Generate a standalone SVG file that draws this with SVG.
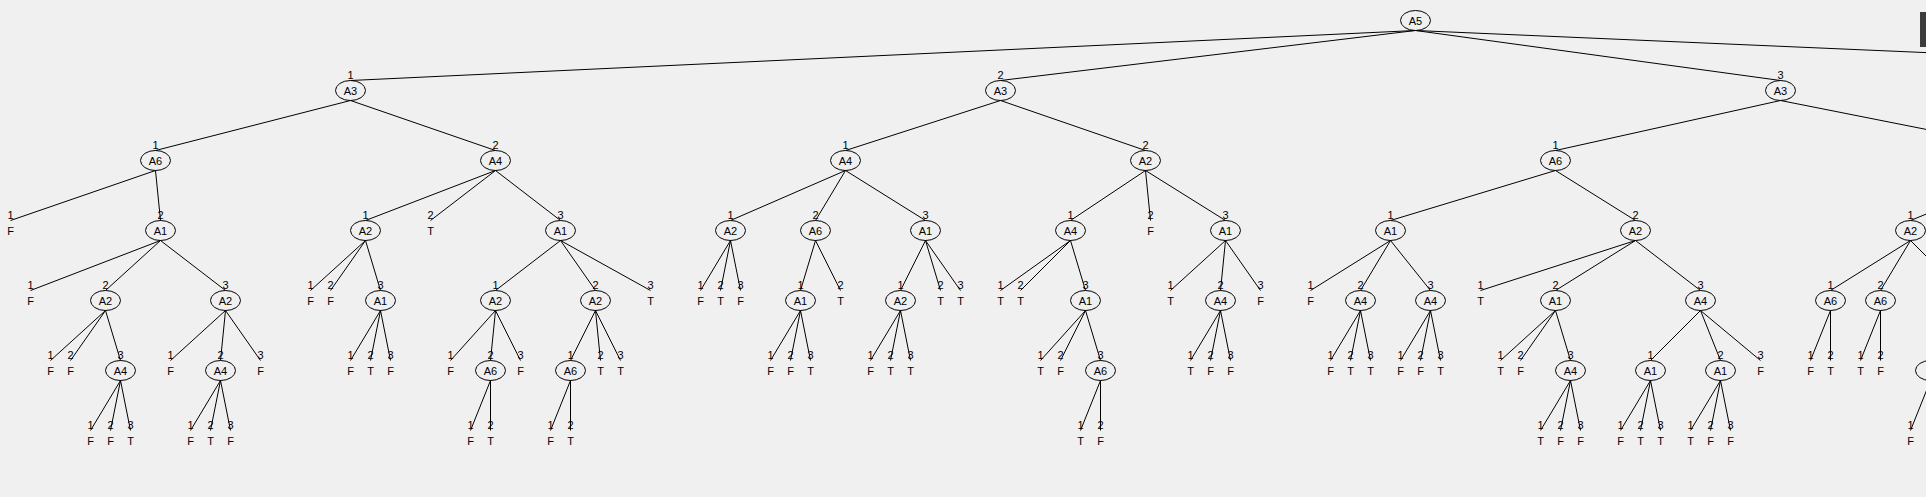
<svg xmlns="http://www.w3.org/2000/svg" width="1926" height="497" viewBox="0 0 1926 497">
<style>
.c line{stroke:#000;stroke-width:1}
.e{fill:none;stroke:#000;stroke-width:1}
text{font-family:"Liberation Sans",Arial,sans-serif;font-size:11px;text-anchor:middle;fill:#000}
</style>
<rect x="0" y="0" width="1926" height="497" fill="#f0f0f0"/>
<rect x="1920" y="12" width="6" height="35" fill="#3c3c3c"/>
<g transform="translate(0.5,0)">
<g id="connectors" class="c">
<line x1="1415" y1="30.5" x2="350" y2="80.5"/>
<line x1="1415" y1="30.5" x2="1000" y2="80.5"/>
<line x1="1415" y1="30.5" x2="1780" y2="80.5"/>
<line x1="1415" y1="30.5" x2="2570" y2="80.5"/>
<line x1="350" y1="100.5" x2="155" y2="150.5"/>
<line x1="350" y1="100.5" x2="495" y2="150.5"/>
<line x1="155" y1="170.5" x2="10" y2="220.5"/>
<line x1="155" y1="170.5" x2="160" y2="220.5"/>
<line x1="160" y1="240.5" x2="30" y2="290.5"/>
<line x1="160" y1="240.5" x2="105" y2="290.5"/>
<line x1="160" y1="240.5" x2="225" y2="290.5"/>
<line x1="105" y1="310.5" x2="50" y2="360.5"/>
<line x1="105" y1="310.5" x2="70" y2="360.5"/>
<line x1="105" y1="310.5" x2="120" y2="360.5"/>
<line x1="120" y1="380.5" x2="90" y2="430.5"/>
<line x1="120" y1="380.5" x2="110" y2="430.5"/>
<line x1="120" y1="380.5" x2="130" y2="430.5"/>
<line x1="225" y1="310.5" x2="170" y2="360.5"/>
<line x1="225" y1="310.5" x2="220" y2="360.5"/>
<line x1="225" y1="310.5" x2="260" y2="360.5"/>
<line x1="220" y1="380.5" x2="190" y2="430.5"/>
<line x1="220" y1="380.5" x2="210" y2="430.5"/>
<line x1="220" y1="380.5" x2="230" y2="430.5"/>
<line x1="495" y1="170.5" x2="365" y2="220.5"/>
<line x1="495" y1="170.5" x2="430" y2="220.5"/>
<line x1="495" y1="170.5" x2="560" y2="220.5"/>
<line x1="365" y1="240.5" x2="310" y2="290.5"/>
<line x1="365" y1="240.5" x2="330" y2="290.5"/>
<line x1="365" y1="240.5" x2="380" y2="290.5"/>
<line x1="380" y1="310.5" x2="350" y2="360.5"/>
<line x1="380" y1="310.5" x2="370" y2="360.5"/>
<line x1="380" y1="310.5" x2="390" y2="360.5"/>
<line x1="560" y1="240.5" x2="495" y2="290.5"/>
<line x1="560" y1="240.5" x2="595" y2="290.5"/>
<line x1="560" y1="240.5" x2="650" y2="290.5"/>
<line x1="495" y1="310.5" x2="450" y2="360.5"/>
<line x1="495" y1="310.5" x2="490" y2="360.5"/>
<line x1="495" y1="310.5" x2="520" y2="360.5"/>
<line x1="490" y1="380.5" x2="470" y2="430.5"/>
<line x1="490" y1="380.5" x2="490" y2="430.5"/>
<line x1="595" y1="310.5" x2="570" y2="360.5"/>
<line x1="595" y1="310.5" x2="600" y2="360.5"/>
<line x1="595" y1="310.5" x2="620" y2="360.5"/>
<line x1="570" y1="380.5" x2="550" y2="430.5"/>
<line x1="570" y1="380.5" x2="570" y2="430.5"/>
<line x1="1000" y1="100.5" x2="845" y2="150.5"/>
<line x1="1000" y1="100.5" x2="1145" y2="150.5"/>
<line x1="845" y1="170.5" x2="730" y2="220.5"/>
<line x1="845" y1="170.5" x2="815" y2="220.5"/>
<line x1="845" y1="170.5" x2="925" y2="220.5"/>
<line x1="730" y1="240.5" x2="700" y2="290.5"/>
<line x1="730" y1="240.5" x2="720" y2="290.5"/>
<line x1="730" y1="240.5" x2="740" y2="290.5"/>
<line x1="815" y1="240.5" x2="800" y2="290.5"/>
<line x1="815" y1="240.5" x2="840" y2="290.5"/>
<line x1="800" y1="310.5" x2="770" y2="360.5"/>
<line x1="800" y1="310.5" x2="790" y2="360.5"/>
<line x1="800" y1="310.5" x2="810" y2="360.5"/>
<line x1="925" y1="240.5" x2="900" y2="290.5"/>
<line x1="925" y1="240.5" x2="940" y2="290.5"/>
<line x1="925" y1="240.5" x2="960" y2="290.5"/>
<line x1="900" y1="310.5" x2="870" y2="360.5"/>
<line x1="900" y1="310.5" x2="890" y2="360.5"/>
<line x1="900" y1="310.5" x2="910" y2="360.5"/>
<line x1="1145" y1="170.5" x2="1070" y2="220.5"/>
<line x1="1145" y1="170.5" x2="1150" y2="220.5"/>
<line x1="1145" y1="170.5" x2="1225" y2="220.5"/>
<line x1="1070" y1="240.5" x2="1000" y2="290.5"/>
<line x1="1070" y1="240.5" x2="1020" y2="290.5"/>
<line x1="1070" y1="240.5" x2="1085" y2="290.5"/>
<line x1="1085" y1="310.5" x2="1040" y2="360.5"/>
<line x1="1085" y1="310.5" x2="1060" y2="360.5"/>
<line x1="1085" y1="310.5" x2="1100" y2="360.5"/>
<line x1="1100" y1="380.5" x2="1080" y2="430.5"/>
<line x1="1100" y1="380.5" x2="1100" y2="430.5"/>
<line x1="1225" y1="240.5" x2="1170" y2="290.5"/>
<line x1="1225" y1="240.5" x2="1220" y2="290.5"/>
<line x1="1225" y1="240.5" x2="1260" y2="290.5"/>
<line x1="1220" y1="310.5" x2="1190" y2="360.5"/>
<line x1="1220" y1="310.5" x2="1210" y2="360.5"/>
<line x1="1220" y1="310.5" x2="1230" y2="360.5"/>
<line x1="1780" y1="100.5" x2="1555" y2="150.5"/>
<line x1="1780" y1="100.5" x2="2032" y2="150.5"/>
<line x1="1555" y1="170.5" x2="1390" y2="220.5"/>
<line x1="1555" y1="170.5" x2="1635" y2="220.5"/>
<line x1="1390" y1="240.5" x2="1310" y2="290.5"/>
<line x1="1390" y1="240.5" x2="1360" y2="290.5"/>
<line x1="1390" y1="240.5" x2="1430" y2="290.5"/>
<line x1="1360" y1="310.5" x2="1330" y2="360.5"/>
<line x1="1360" y1="310.5" x2="1350" y2="360.5"/>
<line x1="1360" y1="310.5" x2="1370" y2="360.5"/>
<line x1="1430" y1="310.5" x2="1400" y2="360.5"/>
<line x1="1430" y1="310.5" x2="1420" y2="360.5"/>
<line x1="1430" y1="310.5" x2="1440" y2="360.5"/>
<line x1="1635" y1="240.5" x2="1480" y2="290.5"/>
<line x1="1635" y1="240.5" x2="1555" y2="290.5"/>
<line x1="1635" y1="240.5" x2="1700" y2="290.5"/>
<line x1="1555" y1="310.5" x2="1500" y2="360.5"/>
<line x1="1555" y1="310.5" x2="1520" y2="360.5"/>
<line x1="1555" y1="310.5" x2="1570" y2="360.5"/>
<line x1="1570" y1="380.5" x2="1540" y2="430.5"/>
<line x1="1570" y1="380.5" x2="1560" y2="430.5"/>
<line x1="1570" y1="380.5" x2="1580" y2="430.5"/>
<line x1="1700" y1="310.5" x2="1650" y2="360.5"/>
<line x1="1700" y1="310.5" x2="1720" y2="360.5"/>
<line x1="1700" y1="310.5" x2="1760" y2="360.5"/>
<line x1="1650" y1="380.5" x2="1620" y2="430.5"/>
<line x1="1650" y1="380.5" x2="1640" y2="430.5"/>
<line x1="1650" y1="380.5" x2="1660" y2="430.5"/>
<line x1="1720" y1="380.5" x2="1690" y2="430.5"/>
<line x1="1720" y1="380.5" x2="1710" y2="430.5"/>
<line x1="1720" y1="380.5" x2="1730" y2="430.5"/>
<line x1="2032" y1="170.5" x2="1910" y2="220.5"/>
<line x1="1910" y1="240.5" x2="1830" y2="290.5"/>
<line x1="1910" y1="240.5" x2="1880" y2="290.5"/>
<line x1="1910" y1="240.5" x2="1960" y2="290.5"/>
<line x1="1830" y1="310.5" x2="1810" y2="360.5"/>
<line x1="1830" y1="310.5" x2="1830" y2="360.5"/>
<line x1="1880" y1="310.5" x2="1860" y2="360.5"/>
<line x1="1880" y1="310.5" x2="1880" y2="360.5"/>
<line x1="1930" y1="380.5" x2="1910" y2="430.5"/>
</g>
<!-- nodes -->
<g id="n0"><ellipse class="e" cx="1415" cy="20.5" rx="15" ry="10"/><text x="1415" y="25">A5</text></g>
<g id="n1"><ellipse class="e" cx="350" cy="90.5" rx="15" ry="10"/><text x="350" y="95">A3</text><text x="350" y="78.5">1</text></g>
<g id="n2"><ellipse class="e" cx="1000" cy="90.5" rx="15" ry="10"/><text x="1000" y="95">A3</text><text x="1000" y="78.5">2</text></g>
<g id="n3"><ellipse class="e" cx="1780" cy="90.5" rx="15" ry="10"/><text x="1780" y="95">A3</text><text x="1780" y="78.5">3</text></g>

<g id="n1a"><ellipse class="e" cx="155" cy="160.5" rx="15" ry="10"/><text x="155" y="165">A6</text><text x="155" y="148.5">1</text></g>
<g id="l1a1"><text x="10" y="218.5">1</text><text x="10" y="235">F</text></g>
<g id="n1a2"><ellipse class="e" cx="160" cy="230.5" rx="15" ry="10"/><text x="160" y="235">A1</text><text x="160" y="218.5">2</text></g>
<g id="l1a21"><text x="30" y="288.5">1</text><text x="30" y="305">F</text></g>
<g id="n1a22"><ellipse class="e" cx="105" cy="300.5" rx="15" ry="10"/><text x="105" y="305">A2</text><text x="105" y="288.5">2</text></g>
<g id="l1a221"><text x="50" y="358.5">1</text><text x="50" y="375">F</text></g>
<g id="l1a222"><text x="70" y="358.5">2</text><text x="70" y="375">F</text></g>
<g id="n1a223"><ellipse class="e" cx="120" cy="370.5" rx="15" ry="10"/><text x="120" y="375">A4</text><text x="120" y="358.5">3</text></g>
<g id="l1a2231"><text x="90" y="428.5">1</text><text x="90" y="445">F</text></g>
<g id="l1a2232"><text x="110" y="428.5">2</text><text x="110" y="445">F</text></g>
<g id="l1a2233"><text x="130" y="428.5">3</text><text x="130" y="445">T</text></g>
<g id="n1a23"><ellipse class="e" cx="225" cy="300.5" rx="15" ry="10"/><text x="225" y="305">A2</text><text x="225" y="288.5">3</text></g>
<g id="l1a231"><text x="170" y="358.5">1</text><text x="170" y="375">F</text></g>
<g id="n1a232"><ellipse class="e" cx="220" cy="370.5" rx="15" ry="10"/><text x="220" y="375">A4</text><text x="220" y="358.5">2</text></g>
<g id="l1a2321"><text x="190" y="428.5">1</text><text x="190" y="445">F</text></g>
<g id="l1a2322"><text x="210" y="428.5">2</text><text x="210" y="445">T</text></g>
<g id="l1a2323"><text x="230" y="428.5">3</text><text x="230" y="445">F</text></g>
<g id="l1a233"><text x="260" y="358.5">3</text><text x="260" y="375">F</text></g>

<g id="n1b"><ellipse class="e" cx="495" cy="160.5" rx="15" ry="10"/><text x="495" y="165">A4</text><text x="495" y="148.5">2</text></g>
<g id="n1b1"><ellipse class="e" cx="365" cy="230.5" rx="15" ry="10"/><text x="365" y="235">A2</text><text x="365" y="218.5">1</text></g>
<g id="l1b11"><text x="310" y="288.5">1</text><text x="310" y="305">F</text></g>
<g id="l1b12"><text x="330" y="288.5">2</text><text x="330" y="305">F</text></g>
<g id="n1b13"><ellipse class="e" cx="380" cy="300.5" rx="15" ry="10"/><text x="380" y="305">A1</text><text x="380" y="288.5">3</text></g>
<g id="l1b131"><text x="350" y="358.5">1</text><text x="350" y="375">F</text></g>
<g id="l1b132"><text x="370" y="358.5">2</text><text x="370" y="375">T</text></g>
<g id="l1b133"><text x="390" y="358.5">3</text><text x="390" y="375">F</text></g>
<g id="l1b2"><text x="430" y="218.5">2</text><text x="430" y="235">T</text></g>
<g id="n1b3"><ellipse class="e" cx="560" cy="230.5" rx="15" ry="10"/><text x="560" y="235">A1</text><text x="560" y="218.5">3</text></g>
<g id="n1b31"><ellipse class="e" cx="495" cy="300.5" rx="15" ry="10"/><text x="495" y="305">A2</text><text x="495" y="288.5">1</text></g>
<g id="l1b311"><text x="450" y="358.5">1</text><text x="450" y="375">F</text></g>
<g id="n1b312"><ellipse class="e" cx="490" cy="370.5" rx="15" ry="10"/><text x="490" y="375">A6</text><text x="490" y="358.5">2</text></g>
<g id="l1b3121"><text x="470" y="428.5">1</text><text x="470" y="445">F</text></g>
<g id="l1b3122"><text x="490" y="428.5">2</text><text x="490" y="445">T</text></g>
<g id="l1b313"><text x="520" y="358.5">3</text><text x="520" y="375">F</text></g>
<g id="n1b32"><ellipse class="e" cx="595" cy="300.5" rx="15" ry="10"/><text x="595" y="305">A2</text><text x="595" y="288.5">2</text></g>
<g id="n1b321"><ellipse class="e" cx="570" cy="370.5" rx="15" ry="10"/><text x="570" y="375">A6</text><text x="570" y="358.5">1</text></g>
<g id="l1b3211"><text x="550" y="428.5">1</text><text x="550" y="445">F</text></g>
<g id="l1b3212"><text x="570" y="428.5">2</text><text x="570" y="445">T</text></g>
<g id="l1b322"><text x="600" y="358.5">2</text><text x="600" y="375">T</text></g>
<g id="l1b323"><text x="620" y="358.5">3</text><text x="620" y="375">T</text></g>
<g id="l1b33"><text x="650" y="288.5">3</text><text x="650" y="305">T</text></g>

<g id="n2a"><ellipse class="e" cx="845" cy="160.5" rx="15" ry="10"/><text x="845" y="165">A4</text><text x="845" y="148.5">1</text></g>
<g id="n2a1"><ellipse class="e" cx="730" cy="230.5" rx="15" ry="10"/><text x="730" y="235">A2</text><text x="730" y="218.5">1</text></g>
<g id="l2a11"><text x="700" y="288.5">1</text><text x="700" y="305">F</text></g>
<g id="l2a12"><text x="720" y="288.5">2</text><text x="720" y="305">T</text></g>
<g id="l2a13"><text x="740" y="288.5">3</text><text x="740" y="305">F</text></g>
<g id="n2a2"><ellipse class="e" cx="815" cy="230.5" rx="15" ry="10"/><text x="815" y="235">A6</text><text x="815" y="218.5">2</text></g>
<g id="n2a21"><ellipse class="e" cx="800" cy="300.5" rx="15" ry="10"/><text x="800" y="305">A1</text><text x="800" y="288.5">1</text></g>
<g id="l2a211"><text x="770" y="358.5">1</text><text x="770" y="375">F</text></g>
<g id="l2a212"><text x="790" y="358.5">2</text><text x="790" y="375">F</text></g>
<g id="l2a213"><text x="810" y="358.5">3</text><text x="810" y="375">T</text></g>
<g id="l2a22"><text x="840" y="288.5">2</text><text x="840" y="305">T</text></g>
<g id="n2a3"><ellipse class="e" cx="925" cy="230.5" rx="15" ry="10"/><text x="925" y="235">A1</text><text x="925" y="218.5">3</text></g>
<g id="n2a31"><ellipse class="e" cx="900" cy="300.5" rx="15" ry="10"/><text x="900" y="305">A2</text><text x="900" y="288.5">1</text></g>
<g id="l2a311"><text x="870" y="358.5">1</text><text x="870" y="375">F</text></g>
<g id="l2a312"><text x="890" y="358.5">2</text><text x="890" y="375">T</text></g>
<g id="l2a313"><text x="910" y="358.5">3</text><text x="910" y="375">T</text></g>
<g id="l2a32"><text x="940" y="288.5">2</text><text x="940" y="305">T</text></g>
<g id="l2a33"><text x="960" y="288.5">3</text><text x="960" y="305">T</text></g>

<g id="n2b"><ellipse class="e" cx="1145" cy="160.5" rx="15" ry="10"/><text x="1145" y="165">A2</text><text x="1145" y="148.5">2</text></g>
<g id="n2b1"><ellipse class="e" cx="1070" cy="230.5" rx="15" ry="10"/><text x="1070" y="235">A4</text><text x="1070" y="218.5">1</text></g>
<g id="l2b11"><text x="1000" y="288.5">1</text><text x="1000" y="305">T</text></g>
<g id="l2b12"><text x="1020" y="288.5">2</text><text x="1020" y="305">T</text></g>
<g id="n2b13"><ellipse class="e" cx="1085" cy="300.5" rx="15" ry="10"/><text x="1085" y="305">A1</text><text x="1085" y="288.5">3</text></g>
<g id="l2b131"><text x="1040" y="358.5">1</text><text x="1040" y="375">T</text></g>
<g id="l2b132"><text x="1060" y="358.5">2</text><text x="1060" y="375">F</text></g>
<g id="n2b133"><ellipse class="e" cx="1100" cy="370.5" rx="15" ry="10"/><text x="1100" y="375">A6</text><text x="1100" y="358.5">3</text></g>
<g id="l2b1331"><text x="1080" y="428.5">1</text><text x="1080" y="445">T</text></g>
<g id="l2b1332"><text x="1100" y="428.5">2</text><text x="1100" y="445">F</text></g>
<g id="l2b2"><text x="1150" y="218.5">2</text><text x="1150" y="235">F</text></g>
<g id="n2b3"><ellipse class="e" cx="1225" cy="230.5" rx="15" ry="10"/><text x="1225" y="235">A1</text><text x="1225" y="218.5">3</text></g>
<g id="l2b31"><text x="1170" y="288.5">1</text><text x="1170" y="305">T</text></g>
<g id="n2b32"><ellipse class="e" cx="1220" cy="300.5" rx="15" ry="10"/><text x="1220" y="305">A4</text><text x="1220" y="288.5">2</text></g>
<g id="l2b321"><text x="1190" y="358.5">1</text><text x="1190" y="375">T</text></g>
<g id="l2b322"><text x="1210" y="358.5">2</text><text x="1210" y="375">F</text></g>
<g id="l2b323"><text x="1230" y="358.5">3</text><text x="1230" y="375">F</text></g>
<g id="l2b33"><text x="1260" y="288.5">3</text><text x="1260" y="305">F</text></g>

<g id="n3a"><ellipse class="e" cx="1555" cy="160.5" rx="15" ry="10"/><text x="1555" y="165">A6</text><text x="1555" y="148.5">1</text></g>
<g id="n3a1"><ellipse class="e" cx="1390" cy="230.5" rx="15" ry="10"/><text x="1390" y="235">A1</text><text x="1390" y="218.5">1</text></g>
<g id="l3a11"><text x="1310" y="288.5">1</text><text x="1310" y="305">F</text></g>
<g id="n3a12"><ellipse class="e" cx="1360" cy="300.5" rx="15" ry="10"/><text x="1360" y="305">A4</text><text x="1360" y="288.5">2</text></g>
<g id="l3a121"><text x="1330" y="358.5">1</text><text x="1330" y="375">F</text></g>
<g id="l3a122"><text x="1350" y="358.5">2</text><text x="1350" y="375">T</text></g>
<g id="l3a123"><text x="1370" y="358.5">3</text><text x="1370" y="375">T</text></g>
<g id="n3a13"><ellipse class="e" cx="1430" cy="300.5" rx="15" ry="10"/><text x="1430" y="305">A4</text><text x="1430" y="288.5">3</text></g>
<g id="l3a131"><text x="1400" y="358.5">1</text><text x="1400" y="375">F</text></g>
<g id="l3a132"><text x="1420" y="358.5">2</text><text x="1420" y="375">F</text></g>
<g id="l3a133"><text x="1440" y="358.5">3</text><text x="1440" y="375">T</text></g>
<g id="n3a2"><ellipse class="e" cx="1635" cy="230.5" rx="15" ry="10"/><text x="1635" y="235">A2</text><text x="1635" y="218.5">2</text></g>
<g id="l3a21"><text x="1480" y="288.5">1</text><text x="1480" y="305">T</text></g>
<g id="n3a22"><ellipse class="e" cx="1555" cy="300.5" rx="15" ry="10"/><text x="1555" y="305">A1</text><text x="1555" y="288.5">2</text></g>
<g id="l3a221"><text x="1500" y="358.5">1</text><text x="1500" y="375">T</text></g>
<g id="l3a222"><text x="1520" y="358.5">2</text><text x="1520" y="375">F</text></g>
<g id="n3a223"><ellipse class="e" cx="1570" cy="370.5" rx="15" ry="10"/><text x="1570" y="375">A4</text><text x="1570" y="358.5">3</text></g>
<g id="l3a2231"><text x="1540" y="428.5">1</text><text x="1540" y="445">T</text></g>
<g id="l3a2232"><text x="1560" y="428.5">2</text><text x="1560" y="445">F</text></g>
<g id="l3a2233"><text x="1580" y="428.5">3</text><text x="1580" y="445">F</text></g>
<g id="n3a23"><ellipse class="e" cx="1700" cy="300.5" rx="15" ry="10"/><text x="1700" y="305">A4</text><text x="1700" y="288.5">3</text></g>
<g id="n3a231"><ellipse class="e" cx="1650" cy="370.5" rx="15" ry="10"/><text x="1650" y="375">A1</text><text x="1650" y="358.5">1</text></g>
<g id="l3a2311"><text x="1620" y="428.5">1</text><text x="1620" y="445">F</text></g>
<g id="l3a2312"><text x="1640" y="428.5">2</text><text x="1640" y="445">T</text></g>
<g id="l3a2313"><text x="1660" y="428.5">3</text><text x="1660" y="445">T</text></g>
<g id="n3a232"><ellipse class="e" cx="1720" cy="370.5" rx="15" ry="10"/><text x="1720" y="375">A1</text><text x="1720" y="358.5">2</text></g>
<g id="l3a2321"><text x="1690" y="428.5">1</text><text x="1690" y="445">T</text></g>
<g id="l3a2322"><text x="1710" y="428.5">2</text><text x="1710" y="445">F</text></g>
<g id="l3a2323"><text x="1730" y="428.5">3</text><text x="1730" y="445">F</text></g>
<g id="l3a233"><text x="1760" y="358.5">3</text><text x="1760" y="375">F</text></g>

<g id="n3b1"><ellipse class="e" cx="1910" cy="230.5" rx="15" ry="10"/><text x="1910" y="235">A2</text><text x="1910" y="218.5">1</text></g>
<g id="n3b11"><ellipse class="e" cx="1830" cy="300.5" rx="15" ry="10"/><text x="1830" y="305">A6</text><text x="1830" y="288.5">1</text></g>
<g id="l3b111"><text x="1810" y="358.5">1</text><text x="1810" y="375">F</text></g>
<g id="l3b112"><text x="1830" y="358.5">2</text><text x="1830" y="375">T</text></g>
<g id="n3b12"><ellipse class="e" cx="1880" cy="300.5" rx="15" ry="10"/><text x="1880" y="305">A6</text><text x="1880" y="288.5">2</text></g>
<g id="l3b121"><text x="1860" y="358.5">1</text><text x="1860" y="375">T</text></g>
<g id="l3b122"><text x="1880" y="358.5">2</text><text x="1880" y="375">F</text></g>
<g id="n3b131"><ellipse class="e" cx="1930" cy="370.5" rx="15" ry="10"/></g>
<g id="l3b1311"><text x="1910" y="428.5">1</text><text x="1910" y="445">F</text></g>
</g>
</svg>
